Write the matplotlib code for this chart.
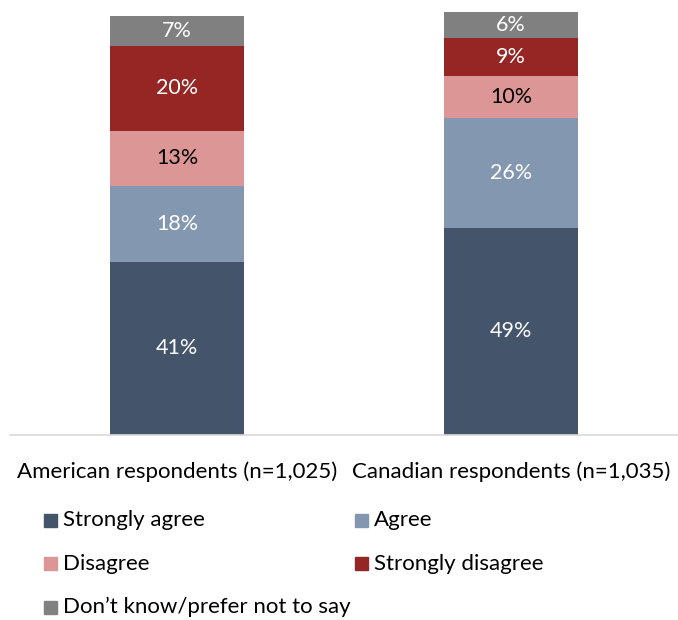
import matplotlib.pyplot as plt
from matplotlib.patches import Rectangle

plt.rcParams['font.family'] = ['Lato', 'DejaVu Sans']

# Data
groups = ['American respondents (n=1,025)', 'Canadian respondents (n=1,035)']
series = ['Strongly agree', 'Agree', 'Disagree', 'Strongly disagree', 'Don\u2019t know/prefer not to say']
strongly_agree = [41, 49]
agree = [18, 26]
disagree = [13, 10]
strongly_disagree = [20, 9]
dont_know = [7, 6]

values = [strongly_agree, agree, disagree, strongly_disagree, dont_know]
colors = ['#44546A', '#8497B0', '#DC9696', '#962623', '#808080']
text_colors = ['white', 'white', 'black', 'white', 'white']

fig = plt.figure(figsize=(6.78, 6.2), dpi=100)
ax = fig.add_axes([0.0147, 0.2984, 0.9853, 0.682])

x = list(range(len(groups)))
bottom = [0, 0]
for vals, col, tcol in zip(values, colors, text_colors):
    bars = ax.bar(x, vals, 0.4, bottom=bottom, color=col)
    for i, b in enumerate(bars):
        ax.text(b.get_x() + b.get_width() / 2, bottom[i] + vals[i] / 2,
                f'{vals[i]}%', ha='center', va='center', color=tcol, fontsize=15.5)
    bottom = [a + v for a, v in zip(bottom, vals)]

ax.set_xlim(-0.5, 1.5)
ax.set_ylim(0, 100)
ax.set_yticks([])
ax.set_xticks(x)
ax.set_xticklabels(groups, fontsize=16)
ax.tick_params(axis='x', length=0, pad=19)
for s in ['top', 'right', 'left']:
    ax.spines[s].set_visible(False)
ax.spines['bottom'].set_color('#D9D9D9')
ax.spines['bottom'].set_linewidth(1.2)

# legend laid out like the Excel one: two columns, rows filled left to right
W, H = 678, 620
for i, (lab, col) in enumerate(zip(series, colors)):
    row, c = divmod(i, 2)
    x0 = 44 if c == 0 else 355
    yc = 520 + row * 43.5
    fig.add_artist(Rectangle((x0 / W, (H - yc - 6.5) / H), 13 / W, 13 / H,
                             transform=fig.transFigure, color=col))
    fig.text((x0 + 19) / W, (H - yc) / H, lab, fontsize=16, va='center', ha='left')

plt.savefig('out.png', dpi=100)
